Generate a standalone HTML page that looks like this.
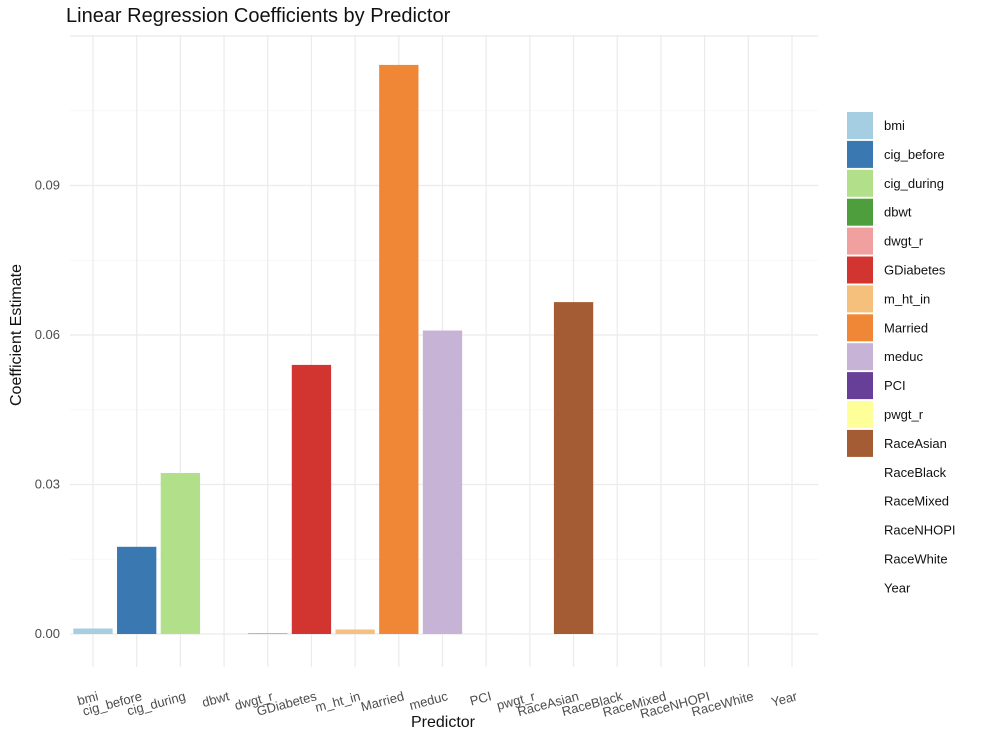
<!DOCTYPE html>
<html><head><meta charset="utf-8"><style>body{margin:0;background:#fff}svg{font-family:"Liberation Sans",sans-serif}</style></head>
<body>
<svg id="chart" width="986" height="740" xmlns="http://www.w3.org/2000/svg">
<text x="66" y="22" font-size="20" fill="#111">Linear Regression Coefficients by Predictor</text>
<text transform="translate(21,335) rotate(-90)" text-anchor="middle" font-size="16" fill="#111">Coefficient Estimate</text>
<text x="443" y="727" text-anchor="middle" font-size="16" fill="#111">Predictor</text>
<g id="grid"></g><g id="bars"></g><g id="labels"></g><g id="legend"></g>
</svg>
<script>
const categories=["bmi","cig_before","cig_during","dbwt","dwgt_r","GDiabetes","m_ht_in","Married","meduc","PCI","pwgt_r","RaceAsian","RaceBlack","RaceMixed","RaceNHOPI","RaceWhite","Year"];
const values=[0.0011,0.0175,0.0323,0,0.0002,0.054,0.0009,0.1142,0.0609,0,0.0002,0.0666,0,0,0,0,0];
const colors=["#a6cee3","#3a78b1","#b2df8a","#4f9e3d","#f0a09e","#d2352f","#f5c07c","#ef8736","#c6b3d6","#673e98","#ffff99","#a45c34","#fff","#fff","#fff","#fff","#fff"];
const yTicks=[0,0.03,0.06,0.09];
const yTickLabels=["0.00","0.03","0.06","0.09"];
const NS="http://www.w3.org/2000/svg";
function mk(t,a,p){const e=document.createElementNS(NS,t);for(const k in a)e.setAttribute(k,a[k]);p.appendChild(e);return e;}
const x0=93,dx=(792-93)/16,yZero=634,pxPerUnit=149.5/0.03;
const xs=i=>x0+i*dx, ys=v=>yZero-v*pxPerUnit;
const grid=document.getElementById('grid'),bars=document.getElementById('bars'),labels=document.getElementById('labels'),legend=document.getElementById('legend');
for(let v=0;v<=0.12;v+=0.015){const y=ys(v);if(y<35)break;const major=Math.abs(v/0.03-Math.round(v/0.03))<1e-6;
 const l=mk('line',{x1:70,x2:818,y1:y,y2:y,stroke:major?'#ebebeb':'#f5f5f5','stroke-width':major?1.2:0.7},grid);
 }
yTicks.forEach((v,i)=>{const t=mk('text',{x:60,y:ys(v)+4,'text-anchor':'end','font-size':13,fill:'#4d4d4d'},grid);t.textContent=yTickLabels[i];
 });
categories.forEach((c,i)=>{const x=xs(i);
 const g=mk('line',{x1:x,x2:x,y1:35,y2:667,stroke:'#ebebeb','stroke-width':1.2},grid);
 
 const h=values[i]*pxPerUnit;
 const r=mk('rect',{x:x-dx*0.45,y:ys(values[i]),width:dx*0.9,height:Math.max(h,0),fill:colors[i]},bars);
 
 const t=mk('text',{'text-anchor':'end','font-size':13,fill:'#4d4d4d',transform:`translate(${x+6},${700}) rotate(-15)`},labels);
 t.textContent=c;
 const ly=112+i*28.9;
 const k=mk('rect',{x:847,y:ly,width:26,height:27,fill:colors[i]},legend);
 
 const lt=mk('text',{x:884,y:ly+18,'font-size':13,fill:'#111'},legend);lt.textContent=c;
 
});
</script>
</body></html>
